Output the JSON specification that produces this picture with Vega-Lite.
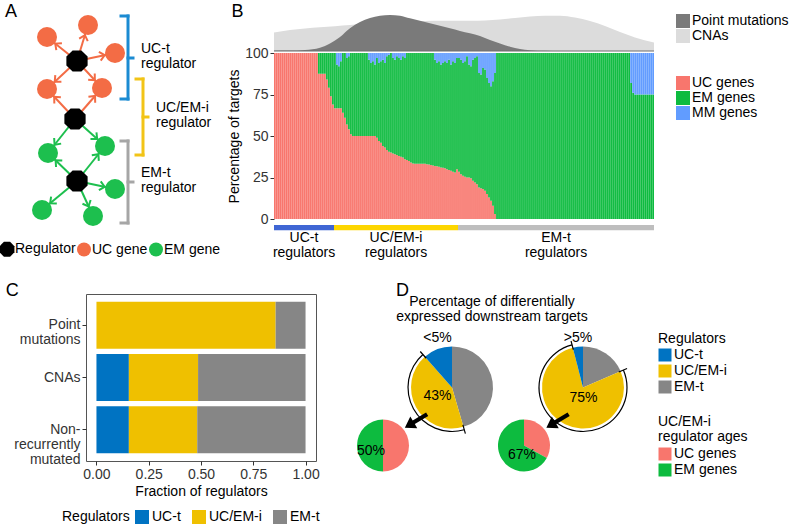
{
"$schema":"https://vega.github.io/schema/vega-lite/v6.json",
"padding":{"left":0,"top":2,"right":0,"bottom":0},
"config":{
 "font":"Liberation Sans",
 "view":{"stroke":null},
 "axis":{"grid":false,"domain":false,"labelFontSize":14,"titleFontSize":14,"titleFontWeight":"normal","labelColor":"#333333","titleColor":"#000000","tickColor":"#333333","tickSize":4,"labelPadding":2},
 "legend":{"labelFontSize":14,"titleFontSize":14,"titleFontWeight":"normal","padding":0,"symbolStrokeWidth":0,"labelColor":"#000000","titleColor":"#000000","symbolOpacity":1},
 "title":{"fontSize":18,"fontWeight":"normal","anchor":"start","offset":0,"color":"#000000"},
 "text":{"fontSize":14,"color":"#000000"}
},
"datasets":{
 "nodes":[
  {"id":"R1","type":"Regulator","x":77,"y":60},
  {"id":"R2","type":"Regulator","x":75,"y":118},
  {"id":"R3","type":"Regulator","x":77,"y":180},
  {"id":"U1","type":"UC gene","x":88,"y":24},
  {"id":"U2","type":"UC gene","x":47,"y":36},
  {"id":"U3","type":"UC gene","x":115,"y":52},
  {"id":"U4","type":"UC gene","x":47,"y":88},
  {"id":"U5","type":"UC gene","x":102,"y":87},
  {"id":"E1","type":"EM gene","x":48,"y":152},
  {"id":"E2","type":"EM gene","x":105,"y":145},
  {"id":"E3","type":"EM gene","x":115,"y":188},
  {"id":"E4","type":"EM gene","x":42,"y":209},
  {"id":"E5","type":"EM gene","x":93,"y":215}
 ],
 "edges":[
  {"s":"R1","t":"U1"},{"s":"R1","t":"U2"},{"s":"R1","t":"U3"},{"s":"R1","t":"U4"},{"s":"R1","t":"U5"},
  {"s":"R2","t":"U4"},{"s":"R2","t":"U5"},{"s":"R2","t":"E1"},{"s":"R2","t":"E2"},
  {"s":"R3","t":"E1"},{"s":"R3","t":"E2"},{"s":"R3","t":"E3"},{"s":"R3","t":"E4"},{"s":"R3","t":"E5"}
 ],
 "brackets":[
  {"name":"UC-t","label":"UC-t\nregulator","x":128,"y1":15,"y2":98,"ym":57},
  {"name":"UC/EM-i","label":"UC/EM-i\nregulator","x":143,"y1":78,"y2":154,"ym":116},
  {"name":"EM-t","label":"EM-t\nregulator","x":128,"y1":140,"y2":222,"ym":181}
 ],
 "dens":[
  {"kind":"CNAs","pos":0,"v":18.5},{"kind":"CNAs","pos":8,"v":21},{"kind":"CNAs","pos":15.5,"v":22.5},{"kind":"CNAs","pos":23,"v":23.7},{"kind":"CNAs","pos":30.5,"v":24.8},{"kind":"CNAs","pos":38,"v":26},{"kind":"CNAs","pos":45.5,"v":27.2},{"kind":"CNAs","pos":53,"v":28.2},{"kind":"CNAs","pos":60.5,"v":29},{"kind":"CNAs","pos":68,"v":29.5},{"kind":"CNAs","pos":75.5,"v":30},{"kind":"CNAs","pos":83,"v":30.2},{"kind":"CNAs","pos":90.5,"v":30.2},{"kind":"CNAs","pos":98,"v":30.3},{"kind":"CNAs","pos":105.5,"v":30.6},{"kind":"CNAs","pos":113,"v":31.5},{"kind":"CNAs","pos":120.5,"v":33},{"kind":"CNAs","pos":128,"v":34.5},{"kind":"CNAs","pos":135.5,"v":35.3},{"kind":"CNAs","pos":143,"v":35.3},{"kind":"CNAs","pos":150.5,"v":33.5},{"kind":"CNAs","pos":158,"v":30},{"kind":"CNAs","pos":165.5,"v":25},{"kind":"CNAs","pos":173,"v":19},{"kind":"CNAs","pos":180.5,"v":13.5},{"kind":"CNAs","pos":190,"v":8.5},
  {"kind":"Point mutations","pos":0,"v":0.3},{"kind":"Point mutations","pos":8,"v":0.4},{"kind":"Point mutations","pos":15.5,"v":1},{"kind":"Point mutations","pos":23,"v":3.3},{"kind":"Point mutations","pos":28,"v":7.5},{"kind":"Point mutations","pos":33,"v":14},{"kind":"Point mutations","pos":38,"v":22.7},{"kind":"Point mutations","pos":43,"v":29},{"kind":"Point mutations","pos":48,"v":33},{"kind":"Point mutations","pos":53,"v":35.3},{"kind":"Point mutations","pos":58,"v":36},{"kind":"Point mutations","pos":63,"v":35.3},{"kind":"Point mutations","pos":68,"v":32.7},{"kind":"Point mutations","pos":73,"v":30.2},{"kind":"Point mutations","pos":78,"v":27.7},{"kind":"Point mutations","pos":83,"v":25.2},{"kind":"Point mutations","pos":88,"v":22.7},{"kind":"Point mutations","pos":93,"v":20},{"kind":"Point mutations","pos":98,"v":17.7},{"kind":"Point mutations","pos":103,"v":15},{"kind":"Point mutations","pos":108,"v":11},{"kind":"Point mutations","pos":113,"v":7.5},{"kind":"Point mutations","pos":118,"v":4.3},{"kind":"Point mutations","pos":123,"v":2},{"kind":"Point mutations","pos":128,"v":0.8},{"kind":"Point mutations","pos":135.5,"v":0.2},{"kind":"Point mutations","pos":143,"v":0},{"kind":"Point mutations","pos":190,"v":0}
 ],
 "bars":[
  {"i":0,"uc":100,"em":0,"mm":0},{"i":1,"uc":100,"em":0,"mm":0},{"i":2,"uc":100,"em":0,"mm":0},{"i":3,"uc":100,"em":0,"mm":0},{"i":4,"uc":100,"em":0,"mm":0},{"i":5,"uc":100,"em":0,"mm":0},{"i":6,"uc":100,"em":0,"mm":0},{"i":7,"uc":100,"em":0,"mm":0},{"i":8,"uc":100,"em":0,"mm":0},{"i":9,"uc":100,"em":0,"mm":0},
  {"i":10,"uc":100,"em":0,"mm":0},{"i":11,"uc":100,"em":0,"mm":0},{"i":12,"uc":100,"em":0,"mm":0},{"i":13,"uc":100,"em":0,"mm":0},{"i":14,"uc":100,"em":0,"mm":0},{"i":15,"uc":100,"em":0,"mm":0},{"i":16,"uc":100,"em":0,"mm":0},{"i":17,"uc":100,"em":0,"mm":0},{"i":18,"uc":100,"em":0,"mm":0},{"i":19,"uc":100,"em":0,"mm":0},
  {"i":20,"uc":100,"em":0,"mm":0},{"i":21,"uc":100,"em":0,"mm":0},{"i":22,"uc":87.5,"em":12.5,"mm":0},{"i":23,"uc":87.5,"em":12.5,"mm":0},{"i":24,"uc":87.5,"em":12.5,"mm":0},{"i":25,"uc":87.5,"em":12.5,"mm":0},{"i":26,"uc":84,"em":16,"mm":0},{"i":27,"uc":79,"em":21,"mm":0},{"i":28,"uc":74,"em":26,"mm":0},{"i":29,"uc":69,"em":31,"mm":0},
  {"i":30,"uc":66.7,"em":33.3,"mm":0},{"i":31,"uc":66.7,"em":26.3,"mm":7},{"i":32,"uc":66.7,"em":25.3,"mm":8},{"i":33,"uc":66.7,"em":28.3,"mm":5},{"i":34,"uc":64,"em":36,"mm":0},{"i":35,"uc":61,"em":39,"mm":0},{"i":36,"uc":57,"em":40,"mm":3},{"i":37,"uc":54,"em":44,"mm":2},{"i":38,"uc":51,"em":49,"mm":0},{"i":39,"uc":50,"em":50,"mm":0},
  {"i":40,"uc":50,"em":50,"mm":0},{"i":41,"uc":50,"em":50,"mm":0},{"i":42,"uc":50,"em":50,"mm":0},{"i":43,"uc":50,"em":50,"mm":0},{"i":44,"uc":50,"em":50,"mm":0},{"i":45,"uc":50,"em":50,"mm":0},{"i":46,"uc":50,"em":50,"mm":0},{"i":47,"uc":50,"em":46,"mm":4},{"i":48,"uc":50,"em":44,"mm":6},{"i":49,"uc":50,"em":45,"mm":5},
  {"i":50,"uc":50,"em":43,"mm":7},{"i":51,"uc":49,"em":48,"mm":3},{"i":52,"uc":47,"em":47,"mm":6},{"i":53,"uc":46,"em":49,"mm":5},{"i":54,"uc":44,"em":52,"mm":4},{"i":55,"uc":43,"em":51,"mm":6},{"i":56,"uc":41.5,"em":56.5,"mm":2},{"i":57,"uc":40.5,"em":58.5,"mm":1},{"i":58,"uc":40,"em":60,"mm":0},{"i":59,"uc":39.5,"em":57.5,"mm":3},
  {"i":60,"uc":39,"em":57,"mm":4},{"i":61,"uc":38.5,"em":59.5,"mm":2},{"i":62,"uc":38,"em":59,"mm":3},{"i":63,"uc":37.5,"em":58.5,"mm":4},{"i":64,"uc":37,"em":61,"mm":2},{"i":65,"uc":36,"em":61,"mm":3},{"i":66,"uc":35.5,"em":64.5,"mm":0},{"i":67,"uc":35,"em":65,"mm":0},{"i":68,"uc":34,"em":66,"mm":0},{"i":69,"uc":33.5,"em":66.5,"mm":0},
  {"i":70,"uc":33.3,"em":66.7,"mm":0},{"i":71,"uc":33.3,"em":66.7,"mm":0},{"i":72,"uc":33.3,"em":66.7,"mm":0},{"i":73,"uc":33.3,"em":66.7,"mm":0},{"i":74,"uc":33.3,"em":66.7,"mm":0},{"i":75,"uc":33.3,"em":66.7,"mm":0},{"i":76,"uc":33,"em":67,"mm":0},{"i":77,"uc":32.8,"em":67.2,"mm":0},{"i":78,"uc":32.5,"em":67.5,"mm":0},{"i":79,"uc":32.2,"em":67.8,"mm":0},
  {"i":80,"uc":32,"em":64,"mm":4},{"i":81,"uc":31.8,"em":62.2,"mm":6},{"i":82,"uc":31.5,"em":63.5,"mm":5},{"i":83,"uc":31,"em":62,"mm":7},{"i":84,"uc":30.8,"em":63.2,"mm":6},{"i":85,"uc":30.5,"em":64.5,"mm":5},{"i":86,"uc":30,"em":64,"mm":6},{"i":87,"uc":29.5,"em":66.5,"mm":4},{"i":88,"uc":29,"em":64,"mm":7},{"i":89,"uc":28.5,"em":66.5,"mm":5},
  {"i":90,"uc":28,"em":66,"mm":6},{"i":91,"uc":30,"em":67,"mm":3},{"i":92,"uc":28.5,"em":68.5,"mm":3},{"i":93,"uc":27,"em":69,"mm":4},{"i":94,"uc":26,"em":68,"mm":6},{"i":95,"uc":25.5,"em":69.5,"mm":5},{"i":96,"uc":25,"em":73,"mm":2},{"i":97,"uc":25,"em":68,"mm":7},{"i":98,"uc":24.5,"em":67.5,"mm":8},{"i":99,"uc":23,"em":73,"mm":4},
  {"i":100,"uc":22,"em":75,"mm":3},{"i":101,"uc":21,"em":77,"mm":2},{"i":102,"uc":19,"em":69,"mm":12},{"i":103,"uc":18.5,"em":68.5,"mm":13},{"i":104,"uc":18,"em":73,"mm":9},{"i":105,"uc":17,"em":73,"mm":10},{"i":106,"uc":15,"em":70,"mm":15},{"i":107,"uc":13,"em":69,"mm":18},{"i":108,"uc":11,"em":69,"mm":20},{"i":109,"uc":8,"em":75,"mm":17},
  {"i":110,"uc":3,"em":85,"mm":12},{"i":111,"uc":0,"em":100,"mm":0},{"i":112,"uc":0,"em":100,"mm":0},{"i":113,"uc":0,"em":100,"mm":0},{"i":114,"uc":0,"em":100,"mm":0},{"i":115,"uc":0,"em":100,"mm":0},{"i":116,"uc":0,"em":100,"mm":0},{"i":117,"uc":0,"em":100,"mm":0},{"i":118,"uc":0,"em":100,"mm":0},{"i":119,"uc":0,"em":100,"mm":0},
  {"i":120,"uc":0,"em":100,"mm":0},{"i":121,"uc":0,"em":100,"mm":0},{"i":122,"uc":0,"em":100,"mm":0},{"i":123,"uc":0,"em":100,"mm":0},{"i":124,"uc":0,"em":100,"mm":0},{"i":125,"uc":0,"em":100,"mm":0},{"i":126,"uc":0,"em":100,"mm":0},{"i":127,"uc":0,"em":100,"mm":0},{"i":128,"uc":0,"em":100,"mm":0},{"i":129,"uc":0,"em":100,"mm":0},
  {"i":130,"uc":0,"em":100,"mm":0},{"i":131,"uc":0,"em":100,"mm":0},{"i":132,"uc":0,"em":100,"mm":0},{"i":133,"uc":0,"em":100,"mm":0},{"i":134,"uc":0,"em":100,"mm":0},{"i":135,"uc":0,"em":100,"mm":0},{"i":136,"uc":0,"em":100,"mm":0},{"i":137,"uc":0,"em":100,"mm":0},{"i":138,"uc":0,"em":100,"mm":0},{"i":139,"uc":0,"em":100,"mm":0},
  {"i":140,"uc":0,"em":100,"mm":0},{"i":141,"uc":0,"em":100,"mm":0},{"i":142,"uc":0,"em":100,"mm":0},{"i":143,"uc":0,"em":100,"mm":0},{"i":144,"uc":0,"em":100,"mm":0},{"i":145,"uc":0,"em":100,"mm":0},{"i":146,"uc":0,"em":100,"mm":0},{"i":147,"uc":0,"em":100,"mm":0},{"i":148,"uc":0,"em":100,"mm":0},{"i":149,"uc":0,"em":100,"mm":0},
  {"i":150,"uc":0,"em":100,"mm":0},{"i":151,"uc":0,"em":100,"mm":0},{"i":152,"uc":0,"em":100,"mm":0},{"i":153,"uc":0,"em":100,"mm":0},{"i":154,"uc":0,"em":100,"mm":0},{"i":155,"uc":0,"em":100,"mm":0},{"i":156,"uc":0,"em":100,"mm":0},{"i":157,"uc":0,"em":100,"mm":0},{"i":158,"uc":0,"em":100,"mm":0},{"i":159,"uc":0,"em":100,"mm":0},
  {"i":160,"uc":0,"em":100,"mm":0},{"i":161,"uc":0,"em":100,"mm":0},{"i":162,"uc":0,"em":100,"mm":0},{"i":163,"uc":0,"em":100,"mm":0},{"i":164,"uc":0,"em":100,"mm":0},{"i":165,"uc":0,"em":100,"mm":0},{"i":166,"uc":0,"em":100,"mm":0},{"i":167,"uc":0,"em":100,"mm":0},{"i":168,"uc":0,"em":100,"mm":0},{"i":169,"uc":0,"em":100,"mm":0},
  {"i":170,"uc":0,"em":100,"mm":0},{"i":171,"uc":0,"em":100,"mm":0},{"i":172,"uc":0,"em":100,"mm":0},{"i":173,"uc":0,"em":100,"mm":0},{"i":174,"uc":0,"em":100,"mm":0},{"i":175,"uc":0,"em":100,"mm":0},{"i":176,"uc":0,"em":100,"mm":0},{"i":177,"uc":0,"em":100,"mm":0},{"i":178,"uc":0,"em":82,"mm":18},{"i":179,"uc":0,"em":76,"mm":24},
  {"i":180,"uc":0,"em":75,"mm":25},{"i":181,"uc":0,"em":75,"mm":25},{"i":182,"uc":0,"em":75,"mm":25},{"i":183,"uc":0,"em":75,"mm":25},{"i":184,"uc":0,"em":75,"mm":25},{"i":185,"uc":0,"em":75,"mm":25},{"i":186,"uc":0,"em":75,"mm":25},{"i":187,"uc":0,"em":75,"mm":25},{"i":188,"uc":0,"em":75,"mm":25},{"i":189,"uc":0,"em":75,"mm":25}
 ],
 "strip":[
  {"cls":"UC-t","start":0,"end":30,"label":"UC-t\nregulators"},
  {"cls":"UC/EM-i","start":30,"end":92,"label":"UC/EM-i\nregulators"},
  {"cls":"EM-t","start":92,"end":190,"label":"EM-t\nregulators"}
 ],
 "fracs":[
  {"src":"Point mutations","reg":"UC-t","frac":0},{"src":"Point mutations","reg":"UC/EM-i","frac":0.857},{"src":"Point mutations","reg":"EM-t","frac":0.143},
  {"src":"CNAs","reg":"UC-t","frac":0.155},{"src":"CNAs","reg":"UC/EM-i","frac":0.331},{"src":"CNAs","reg":"EM-t","frac":0.514},
  {"src":"Non-recurrently mutated","reg":"UC-t","frac":0.155},{"src":"Non-recurrently mutated","reg":"UC/EM-i","frac":0.327},{"src":"Non-recurrently mutated","reg":"EM-t","frac":0.518}
 ],
 "pies":[
  {"grp":"<5%","ring":"reg","cat":"EM-t","ord":0,"value":0.455},
  {"grp":"<5%","ring":"reg","cat":"UC/EM-i","ord":1,"value":0.43,"label":"43%"},
  {"grp":"<5%","ring":"reg","cat":"UC-t","ord":2,"value":0.115},
  {"grp":">5%","ring":"reg","cat":"EM-t","ord":0,"value":0.185},
  {"grp":">5%","ring":"reg","cat":"UC/EM-i","ord":1,"value":0.775,"label":"75%"},
  {"grp":">5%","ring":"reg","cat":"UC-t","ord":2,"value":0.04},
  {"grp":"<5%","ring":"age","cat":"UC genes","ord":0,"value":0.5},
  {"grp":"<5%","ring":"age","cat":"EM genes","ord":1,"value":0.5,"label":"50%"},
  {"grp":">5%","ring":"age","cat":"UC genes","ord":0,"value":0.33},
  {"grp":">5%","ring":"age","cat":"EM genes","ord":1,"value":0.67,"label":"67%"}
 ]
},
"vconcat":[
 {
  "hconcat":[
   {
    "width":225,"height":225,
    "title":{"text":"A","dx":5,"dy":11},
    "layer":[
     {"data":{"name":"brackets"},"mark":{"type":"rule","strokeWidth":3,"strokeCap":"square"},
      "encoding":{"x":{"field":"x","type":"quantitative","scale":{"domain":[0,225],"nice":false,"zero":false},"axis":null},
       "y":{"field":"y1","type":"quantitative","scale":{"domain":[13,238],"nice":false,"zero":false,"reverse":true},"axis":null},
       "y2":{"field":"y2"},
       "color":{"field":"name","type":"nominal","scale":{"domain":["UC-t","UC/EM-i","EM-t"],"range":["#1b8bd2","#f2c417","#a6a6a6"]},"legend":null}}},
     {"data":{"name":"brackets"},"mark":{"type":"rule","strokeWidth":3,"strokeCap":"square","x2Offset":-7},
      "encoding":{"x":{"field":"x","type":"quantitative"},"x2":{"field":"x"},"y":{"field":"y1","type":"quantitative"},
       "color":{"field":"name","type":"nominal","legend":null}}},
     {"data":{"name":"brackets"},"mark":{"type":"rule","strokeWidth":3,"strokeCap":"square","x2Offset":-7},
      "encoding":{"x":{"field":"x","type":"quantitative"},"x2":{"field":"x"},"y":{"field":"y2","type":"quantitative"},
       "color":{"field":"name","type":"nominal","legend":null}}},
     {"data":{"name":"brackets"},"mark":{"type":"rule","strokeWidth":3,"strokeCap":"square","x2Offset":5},
      "encoding":{"x":{"field":"x","type":"quantitative"},"x2":{"field":"x"},"y":{"field":"ym","type":"quantitative"},
       "color":{"field":"name","type":"nominal","legend":null}}},
     {"data":{"name":"brackets"},"mark":{"type":"text","align":"left","baseline":"middle","dx":13,"dy":-9,"fontSize":14,"lineBreak":"\n","lineHeight":15},
      "encoding":{"x":{"field":"x","type":"quantitative"},"y":{"field":"ym","type":"quantitative"},"text":{"field":"label"}}},
     {"data":{"name":"edges"},
      "transform":[
       {"lookup":"s","from":{"data":{"name":"nodes"},"key":"id","fields":["x","y"]},"as":["sx","sy"]},
       {"lookup":"t","from":{"data":{"name":"nodes"},"key":"id","fields":["x","y","type"]},"as":["tx","ty","ttype"]}
      ],
      "mark":{"type":"rule","strokeWidth":2},
      "encoding":{"x":{"field":"sx","type":"quantitative"},"y":{"field":"sy","type":"quantitative"},"x2":{"field":"tx"},"y2":{"field":"ty"},
       "stroke":{"field":"ttype","type":"nominal","scale":{"domain":["UC gene","EM gene"],"range":["#f36c45","#1dbf4e"]},"legend":null}}},
     {"data":{"name":"nodes"},"mark":{"type":"point","filled":true,"size":400,"opacity":1,"strokeWidth":0},
      "encoding":{"x":{"field":"x","type":"quantitative"},"y":{"field":"y","type":"quantitative"},
       "fill":{"field":"type","type":"nominal","scale":{"domain":["Regulator","UC gene","EM gene"],"range":["#000000","#f36c45","#1dbf4e"]},
        "legend":{"title":null,"orient":"bottom","direction":"horizontal","symbolSize":196,"columnPadding":1,"labelOffset":1,"offset":3}},
       "shape":{"field":"type","type":"nominal","scale":{"domain":["Regulator","UC gene","EM gene"],"range":["M-0.44,-1.062L0.44,-1.062L1.062,-0.44L1.062,0.44L0.44,1.062L-0.44,1.062L-1.062,0.44L-1.062,-0.44Z","circle","circle"]},
        "legend":{"title":null,"orient":"bottom","direction":"horizontal","symbolSize":196,"columnPadding":1,"labelOffset":1,"offset":3}}}},
     {"data":{"name":"edges"},
      "transform":[
       {"lookup":"s","from":{"data":{"name":"nodes"},"key":"id","fields":["x","y"]},"as":["sx","sy"]},
       {"lookup":"t","from":{"data":{"name":"nodes"},"key":"id","fields":["x","y","type"]},"as":["tx","ty","ttype"]},
       {"calculate":"atan2(datum.tx-datum.sx, datum.sy-datum.ty)*180/PI","as":"ang"}
      ],
      "mark":{"type":"point","shape":"M-0.28,0.97L0,0.66L0.28,0.97","filled":false,"size":1024,"strokeWidth":2,"opacity":1},
      "encoding":{"x":{"field":"tx","type":"quantitative"},"y":{"field":"ty","type":"quantitative"},
       "angle":{"field":"ang","type":"quantitative","scale":null},
       "stroke":{"field":"ttype","type":"nominal","legend":null}}}
    ]
   },
   {
    "vconcat":[
     {
      "width":380,"height":37,
      "title":{"text":"B","dx":-42,"dy":11},
      "data":{"name":"dens"},
      "layer":[
       {"transform":[{"filter":"datum.kind=='CNAs'"}],"mark":{"type":"area","interpolate":"monotone"},
        "encoding":{"x":{"field":"pos","type":"quantitative","scale":{"domain":[0,190],"nice":false,"zero":false},"axis":null},
         "y":{"field":"v","type":"quantitative","stack":null,"scale":{"domain":[0,37],"nice":false},"axis":null},
         "color":{"field":"kind","type":"nominal","scale":{"domain":["Point mutations","CNAs"],"range":["#7a7a7a","#dcdcdc"]},
          "legend":{"title":null,"orient":"none","legendX":402,"legendY":0,"symbolType":"square","symbolSize":196,"rowPadding":1,"labelOffset":2}}}},
       {"transform":[{"filter":"datum.kind=='Point mutations'"}],"mark":{"type":"area","interpolate":"monotone"},
        "encoding":{"x":{"field":"pos","type":"quantitative"},
         "y":{"field":"v","type":"quantitative","stack":null},
         "color":{"field":"kind","type":"nominal"}}},
       {"data":{"values":[{"b":0}]},"mark":{"type":"rule","color":"#6e6e6e","strokeWidth":1},
        "encoding":{"y":{"field":"b","type":"quantitative"}}}
      ]
     },
     {
      "width":380,"height":166,
      "data":{"name":"bars"},
      "transform":[
       {"fold":["uc","em","mm"],"as":["key","pct"]},
       {"calculate":"datum.key=='uc'?'UC genes':datum.key=='em'?'EM genes':'MM genes'","as":"gene"},
       {"calculate":"indexof(['uc','em','mm'],datum.key)","as":"ord"}
      ],
      "mark":{"type":"bar"},
      "encoding":{
       "x":{"field":"i","type":"ordinal","scale":{"paddingInner":0.12,"paddingOuter":0},"axis":null},
       "y":{"field":"pct","type":"quantitative","stack":"zero","scale":{"domain":[0,100],"nice":false},
        "axis":{"values":[0,25,50,75,100],"title":"Percentage of targets","titlePadding":3,"labelPadding":2}},
       "color":{"field":"gene","type":"nominal","scale":{"domain":["UC genes","EM genes","MM genes"],"range":["#F8766D","#0DBB3F","#619CFF"]},
        "legend":{"title":null,"orient":"none","legendX":402,"legendY":23,"symbolType":"square","symbolSize":196,"rowPadding":1,"labelOffset":2}},
       "order":{"field":"ord","type":"quantitative"}
      }
     },
     {
      "width":380,"height":35,
      "data":{"name":"strip"},
      "layer":[
       {"mark":{"type":"bar"},
        "encoding":{"x":{"field":"start","type":"quantitative","scale":{"domain":[0,190],"nice":false,"zero":false},"axis":null},
         "x2":{"field":"end"},
         "y":{"datum":4,"type":"quantitative","scale":{"domain":[0,35],"nice":false,"zero":false,"reverse":true},"axis":null},
         "y2":{"datum":9.3},
         "color":{"field":"cls","type":"nominal","scale":{"domain":["UC-t","UC/EM-i","EM-t"],"range":["#3f66d4","#fdd600","#bebebe"]},"legend":null}}},
       {"transform":[{"calculate":"(datum.start+datum.end)/2","as":"mid"}],
        "mark":{"type":"text","fontSize":14,"lineBreak":"\n","lineHeight":15,"baseline":"middle","align":"center"},
        "encoding":{"x":{"field":"mid","type":"quantitative"},"y":{"datum":16.5,"type":"quantitative"},"text":{"field":"label"}}}
      ]
     }
    ],
    "spacing":2,
    "bounds":"flush",
    "resolve":{"scale":{"color":"independent","x":"independent","y":"independent"}}
   }
  ],
  "spacing":2,
  "bounds":"full",
  "resolve":{"scale":{"color":"independent","fill":"independent","stroke":"independent","shape":"independent"}}
 },
 {
  "hconcat":[
   {
    "width":1,"height":1,
    "data":{"values":[]},
    "mark":{"type":"point"}
   },
   {
    "width":230,"height":167,
    "title":{"text":"C","dx":-8,"dy":10},
    "data":{"name":"fracs"},
    "transform":[{"calculate":"indexof(['UC-t','UC/EM-i','EM-t'],datum.reg)","as":"ord"}],
    "mark":{"type":"bar"},
    "encoding":{
     "y":{"field":"src","type":"nominal","sort":["Point mutations","CNAs","Non-recurrently mutated"],"scale":{"paddingInner":0.1,"paddingOuter":0.15},
      "axis":{"title":null,"labelLineHeight":15,"labelExpr":"datum.value=='Point mutations'?['Point','mutations']:datum.value=='Non-recurrently mutated'?['Non-','recurrently','mutated']:datum.value"}},
     "x":{"field":"frac","type":"quantitative","stack":"zero","scale":{"domain":[-0.05,1.05],"nice":false,"zero":false},
      "axis":{"values":[0,0.25,0.5,0.75,1],"format":".2f","title":"Fraction of regulators","titlePadding":3}},
     "color":{"field":"reg","type":"nominal","scale":{"domain":["UC-t","UC/EM-i","EM-t"],"range":["#0073C2","#EFC000","#868686"]},
      "legend":{"title":"Regulators","orient":"none","legendX":-24,"legendY":216,"direction":"horizontal","titleOrient":"left","symbolType":"square","symbolSize":196,"columnPadding":11,"labelOffset":3,"titlePadding":5}},
     "order":{"field":"ord","type":"quantitative"}
    },
    "view":{"stroke":"#555555","strokeWidth":1}
   },
   {
    "width":326,"height":190,
    "title":{"text":"D","dx":71,"dy":10},
    "data":{"name":"pies"},
    "transform":[{"stack":"value","groupby":["grp","ring"],"sort":[{"field":"ord","order":"ascending"}],"as":["v0","v1"]}],
    "layer":[
     {"transform":[{"filter":"datum.ring=='reg'"}],"mark":{"type":"arc","radius":41},
      "encoding":{
       "x":{"field":"grp","type":"nominal","scale":{"type":"point","domain":["<5%",">5%"],"range":[127,258],"padding":0},
        "axis":{"orient":"top","labels":false,"ticks":false,"domain":false,"title":["Percentage of differentially","expressed downstream targets"],"titleX":166.5,"titleY":0,"titleAlign":"center","titleBaseline":"top","titleFontSize":14,"titleLineHeight":15}},
       "y":{"field":"grp","type":"nominal","scale":{"type":"point","domain":["<5%",">5%"],"range":[93.5,93.5],"padding":0},"axis":null},
       "theta":{"field":"v0","type":"quantitative","stack":null,"scale":{"domain":[0,1],"range":[0,6.283185307179586]}},
       "theta2":{"field":"v1"},
       "color":{"field":"cat","type":"nominal","scale":{"domain":["UC-t","UC/EM-i","EM-t"],"range":["#0073C2","#EFC000","#868686"]},
        "legend":{"title":"Regulators","orient":"none","legendX":333,"legendY":38,"symbolType":"square","symbolSize":169,"rowPadding":2,"labelOffset":2,"titlePadding":2}}}},
     {"transform":[{"filter":"datum.ring=='reg' && datum.cat=='UC/EM-i'"}],"mark":{"type":"arc","radius":44.6,"radius2":43.4,"color":"#000000"},
      "encoding":{
       "x":{"field":"grp","type":"nominal","scale":{"type":"point","domain":["<5%",">5%"],"range":[127,258],"padding":0},"axis":null},
       "y":{"field":"grp","type":"nominal","scale":{"type":"point","domain":["<5%",">5%"],"range":[93.5,93.5],"padding":0},"axis":null},
       "theta":{"field":"v0","type":"quantitative","stack":null,"scale":{"domain":[0,1],"range":[0,6.283185307179586]}},
       "theta2":{"field":"v1"}}},
     {"transform":[{"filter":"datum.ring=='reg' && datum.cat=='UC/EM-i'"}],"mark":{"type":"arc","radius":48,"radius2":39,"filled":false,"color":"#000000","strokeWidth":1.2},
      "encoding":{
       "x":{"field":"grp","type":"nominal","scale":{"type":"point","domain":["<5%",">5%"],"range":[127,258],"padding":0},"axis":null},
       "y":{"field":"grp","type":"nominal","scale":{"type":"point","domain":["<5%",">5%"],"range":[93.5,93.5],"padding":0},"axis":null},
       "theta":{"field":"v0","type":"quantitative","stack":null,"scale":{"domain":[0,1],"range":[0,6.283185307179586]}},
       "theta2":{"field":"v0"}}},
     {"transform":[{"filter":"datum.ring=='reg' && datum.cat=='UC/EM-i'"}],"mark":{"type":"arc","radius":48,"radius2":39,"filled":false,"color":"#000000","strokeWidth":1.2},
      "encoding":{
       "x":{"field":"grp","type":"nominal","scale":{"type":"point","domain":["<5%",">5%"],"range":[127,258],"padding":0},"axis":null},
       "y":{"field":"grp","type":"nominal","scale":{"type":"point","domain":["<5%",">5%"],"range":[93.5,93.5],"padding":0},"axis":null},
       "theta":{"field":"v1","type":"quantitative","stack":null,"scale":{"domain":[0,1],"range":[0,6.283185307179586]}},
       "theta2":{"field":"v1"}}},
     {"transform":[{"filter":"datum.ring=='age'"}],"mark":{"type":"arc","radius":26},
      "encoding":{
       "x":{"field":"grp","type":"nominal","scale":{"type":"point","domain":["<5%",">5%"],"range":[58,199],"padding":0},"axis":null},
       "y":{"field":"grp","type":"nominal","scale":{"type":"point","domain":["<5%",">5%"],"range":[151.5,151.5],"padding":0},"axis":null},
       "theta":{"field":"v0","type":"quantitative","stack":null,"scale":{"domain":[0,1],"range":[0,6.283185307179586]}},
       "theta2":{"field":"v1"},
       "color":{"field":"cat","type":"nominal","scale":{"domain":["UC genes","EM genes"],"range":["#F8766D","#0DBB3F"]},
        "legend":{"title":["UC/EM-i","regulator ages"],"orient":"none","legendX":333,"legendY":121,"symbolType":"square","symbolSize":169,"rowPadding":2,"labelOffset":2,"titlePadding":3,"titleLineHeight":15}}}},
     {"transform":[{"filter":"datum.ring=='reg' && datum.cat=='UC/EM-i'"}],
      "mark":{"type":"point","shape":"M-0.16,-1L0.16,-1L0.16,0.2L0.52,0.2L0,1L-0.52,0.2L-0.16,0.2Z","filled":true,"color":"#000000","size":676,"angle":59,"opacity":1},
      "encoding":{
       "x":{"field":"grp","type":"nominal","scale":{"type":"point","domain":["<5%",">5%"],"range":[91,232.5],"padding":0},"axis":null},
       "y":{"field":"grp","type":"nominal","scale":{"type":"point","domain":["<5%",">5%"],"range":[127,127],"padding":0},"axis":null}}},
     {"transform":[{"filter":"datum.ring=='reg' && datum.cat=='UC/EM-i'"}],
      "mark":{"type":"text","fontSize":14,"baseline":"middle","align":"center"},
      "encoding":{
       "x":{"field":"grp","type":"nominal","scale":{"type":"point","domain":["<5%",">5%"],"range":[112.5,258.5],"padding":0},"axis":null},
       "y":{"field":"grp","type":"nominal","scale":{"type":"point","domain":["<5%",">5%"],"range":[102,104],"padding":0},"axis":null},
       "text":{"field":"label"}}},
     {"transform":[{"filter":"datum.ring=='age' && datum.cat=='EM genes'"}],
      "mark":{"type":"text","fontSize":14,"baseline":"middle","align":"center"},
      "encoding":{
       "x":{"field":"grp","type":"nominal","scale":{"type":"point","domain":["<5%",">5%"],"range":[46,197],"padding":0},"axis":null},
       "y":{"field":"grp","type":"nominal","scale":{"type":"point","domain":["<5%",">5%"],"range":[157,161],"padding":0},"axis":null},
       "text":{"field":"label"}}},
     {"transform":[{"filter":"datum.ring=='reg' && datum.cat=='UC/EM-i'"}],
      "mark":{"type":"text","fontSize":14,"baseline":"middle","align":"center"},
      "encoding":{
       "x":{"field":"grp","type":"nominal","scale":{"type":"point","domain":["<5%",">5%"],"range":[112.5,253],"padding":0},"axis":null},
       "y":{"field":"grp","type":"nominal","scale":{"type":"point","domain":["<5%",">5%"],"range":[44,44],"padding":0},"axis":null},
       "text":{"field":"grp"}}}
    ],
    "resolve":{"scale":{"x":"independent","y":"independent","color":"independent"}}
   }
  ],
  "spacing":4,
  "bounds":"full",
  "resolve":{"scale":{"color":"independent","fill":"independent","stroke":"independent","shape":"independent"}}
 }
],
"spacing":21,
"bounds":"full",
"resolve":{"scale":{"color":"independent","fill":"independent","stroke":"independent","shape":"independent"}}
}
